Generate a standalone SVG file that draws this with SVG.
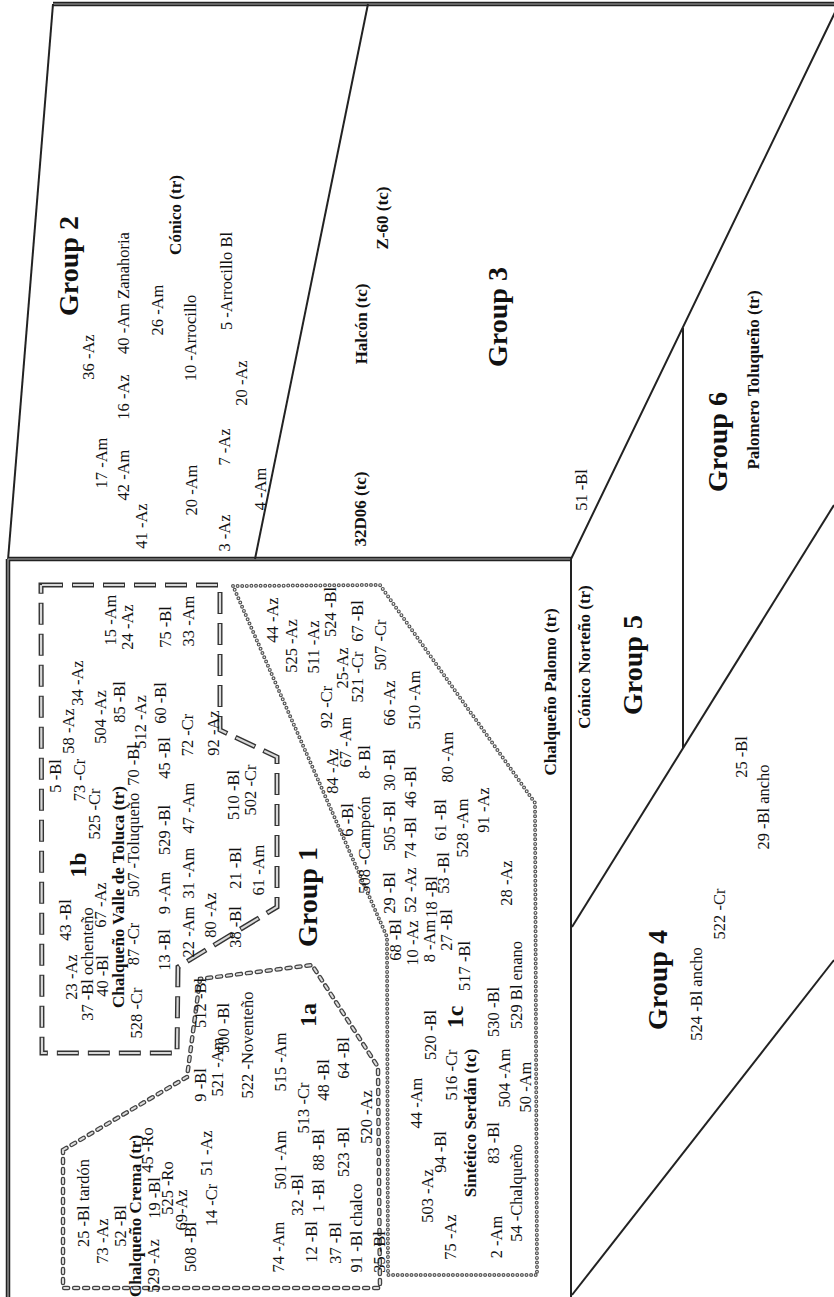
<svg xmlns="http://www.w3.org/2000/svg" width="834" height="1297" viewBox="0 0 834 1297">
<style>
text{font-family:"Liberation Serif","Times New Roman",serif;fill:#111;text-anchor:middle;dominant-baseline:central}
.r{font-size:16.5px}
.b{font-size:17px;font-weight:bold}
.g{font-size:28px;font-weight:bold}
.s{font-size:24px;font-weight:bold}
.ln{stroke:#222;stroke-width:2;fill:none}
.dbo{stroke:#222;stroke-width:4.5;fill:none}
.dbi{stroke:#aaa;stroke-width:1.2;fill:none}
.d1o{stroke:#333;stroke-width:5;stroke-dasharray:22 9;fill:none}
.d1i{stroke:#d8d8d8;stroke-width:2.2;stroke-dasharray:20 11;stroke-dashoffset:-1;fill:none}
.d2o{stroke:#444;stroke-width:4.5;stroke-dasharray:4 6;stroke-linecap:round;fill:none}
.d2i{stroke:#ddd;stroke-width:2;stroke-dasharray:4 6;stroke-linecap:round;fill:none}
.d3o{stroke:#555;stroke-width:4;stroke-dasharray:0 4.6;stroke-linecap:round;fill:none}
.d3i{stroke:#fff;stroke-width:1.6;stroke-dasharray:0 4.6;stroke-linecap:round;fill:none}
</style>
<rect width="834" height="1297" fill="#fff"/>
<g id="connectors">
<path class="dbo" d="M53,4 L834,4"/><path class="dbi" d="M53,4 L834,4"/>
<path class="ln" d="M53,4 L8,560"/>
<path class="dbo" d="M8,559 L8,1297 M8,559 L571,559"/><path class="dbi" d="M8,559 L8,1297 M8,559 L571,559"/>
<path class="ln" d="M368,4 L255,559"/>
<path class="ln" d="M839,4 L571,559 L571,1297"/>
<path class="ln" d="M683,328 L683,748"/>
<path class="ln" d="M572,927 L834,505"/>
<path class="ln" d="M572,1295 L834,960"/>
<path class="d1o" d="M41,585 L220,585 L220,730 L277,757 L277,907 L178,967 L177,1053 L42,1053 Z"/>
<path class="d1i" d="M41,585 L220,585 L220,730 L277,757 L277,907 L178,967 L177,1053 L42,1053 Z"/>
<path class="d2o" d="M63,1150 L187,1077 L200,979 L312,965 L378,1067 L380,1288 L63,1288 Z"/>
<path class="d2i" d="M63,1150 L187,1077 L200,979 L312,965 L378,1067 L380,1288 L63,1288 Z"/>
<path class="d3o" d="M233,586 L380,585 L535,803 L537,1275 L388,1275 L387,937 Z"/>
<path class="d3i" d="M233,586 L380,585 L535,803 L537,1275 L388,1275 L387,937 Z"/>
</g>
<g id="group2">
<text class="g" transform="translate(68 266) rotate(-90)">Group 2</text>
<text class="r" transform="translate(88 357) rotate(-90)">36 -Az</text>
<text class="r" transform="translate(101 463) rotate(-90)">17 -Am</text>
<text class="r" transform="translate(123 475) rotate(-90)">42 -Am</text>
<text class="r" transform="translate(141 526) rotate(-90)">41 -Az</text>
<text class="r" transform="translate(123 397) rotate(-90)">16 -Az</text>
<text class="r" transform="translate(123 293) rotate(-90)">40 -Am Zanahoria</text>
<text class="r" transform="translate(157 310) rotate(-90)">26 -Am</text>
<text class="b" transform="translate(175 215) rotate(-90)">Cónico (tr)</text>
<text class="r" transform="translate(190 338) rotate(-90)">10 -Arrocillo</text>
<text class="r" transform="translate(191 490) rotate(-90)">20 -Am</text>
<text class="r" transform="translate(226 281) rotate(-90)">5 -Arrocillo Bl</text>
<text class="r" transform="translate(224 447) rotate(-90)">7 -Az</text>
<text class="r" transform="translate(241 383) rotate(-90)">20 -Az</text>
<text class="r" transform="translate(224 533) rotate(-90)">3 -Az</text>
<text class="r" transform="translate(260 489) rotate(-90)">4 -Am</text>
</g>
<g id="group3">
<text class="b" transform="translate(382 218) rotate(-90)">Z-60 (tc)</text>
<text class="b" transform="translate(361 324) rotate(-90)">Halcón (tc)</text>
<text class="g" transform="translate(497 317) rotate(-90)">Group 3</text>
<text class="b" transform="translate(360 509) rotate(-90)">32D06 (tc)</text>
</g>
<g id="group6">
<text class="b" transform="translate(753 380) rotate(-90)">Palomero Toluqueño (tr)</text>
<text class="g" transform="translate(717 442) rotate(-90)">Group 6</text>
</g>
<g id="group5">
<text class="r" transform="translate(581 490) rotate(-90)">51 -Bl</text>
<text class="b" transform="translate(584 657) rotate(-90)">Cónico Norteño (tr)</text>
<text class="g" transform="translate(632 665) rotate(-90)">Group 5</text>
</g>
<g id="group4">
<text class="r" transform="translate(741 757) rotate(-90)">25 -Bl</text>
<text class="r" transform="translate(763 807) rotate(-90)">29 -Bl ancho</text>
<text class="r" transform="translate(719 914) rotate(-90)">522 -Cr</text>
<text class="g" transform="translate(657 980) rotate(-90)">Group 4</text>
<text class="r" transform="translate(696 994) rotate(-90)">524 -Bl ancho</text>
</g>
<g id="group1">
<text class="g" transform="translate(307 897) rotate(-90)">Group 1</text>
<text class="b" transform="translate(550 692) rotate(-90)">Chalqueño Palomo (tr)</text>
<text class="r" transform="translate(272 620) rotate(-90)">44 -Az</text>
</g>
<g id="group1b">
<text class="r" transform="translate(55 776) rotate(-90)">5 -Bl</text>
<text class="r" transform="translate(68 731) rotate(-90)">58 -Az</text>
<text class="r" transform="translate(77 683) rotate(-90)">34 -Az</text>
<text class="r" transform="translate(65 920) rotate(-90)">43 -Bl</text>
<text class="r" transform="translate(71 977) rotate(-90)">23 -Az</text>
<text class="r" transform="translate(79 780) rotate(-90)">73 -Cr</text>
<text class="s" transform="translate(78 865) rotate(-90)">1b</text>
<text class="r" transform="translate(87 964) rotate(-90)">37 -Bl ochenteño</text>
<text class="r" transform="translate(94 814) rotate(-90)">525 -Cr</text>
<text class="r" transform="translate(100 717) rotate(-90)">504 -Az</text>
<text class="r" transform="translate(110 620) rotate(-90)">15 -Am</text>
<text class="r" transform="translate(100 905) rotate(-90)">67 -Az</text>
<text class="r" transform="translate(102 976) rotate(-90)">40 -Bl</text>
<text class="r" transform="translate(127 627) rotate(-90)">24 -Az</text>
<text class="r" transform="translate(119 702) rotate(-90)">85 -Bl</text>
<text class="r" transform="translate(133 765) rotate(-90)">70 -Bl</text>
<text class="r" transform="translate(140 722) rotate(-90)">512 -Az</text>
<text class="b" transform="translate(118 897) rotate(-90)">Chalqueño Valle de Toluca (tr)</text>
<text class="r" transform="translate(133 845) rotate(-90)">507 -Toluqueño</text>
<text class="r" transform="translate(133 944) rotate(-90)">87 -Cr</text>
<text class="r" transform="translate(136 1013) rotate(-90)">528 -Cr</text>
<text class="r" transform="translate(160 703) rotate(-90)">60 -Bl</text>
<text class="r" transform="translate(165 627) rotate(-90)">75 -Bl</text>
<text class="r" transform="translate(188 621) rotate(-90)">33 -Am</text>
<text class="r" transform="translate(164 950) rotate(-90)">13 -Bl</text>
<text class="r" transform="translate(164 893) rotate(-90)">9 -Am</text>
<text class="r" transform="translate(164 830) rotate(-90)">529 -Bl</text>
<text class="r" transform="translate(164 758) rotate(-90)">45 -Bl</text>
<text class="r" transform="translate(187 735) rotate(-90)">72 -Cr</text>
<text class="r" transform="translate(188 932) rotate(-90)">22 -Am</text>
<text class="r" transform="translate(188 873) rotate(-90)">31 -Am</text>
<text class="r" transform="translate(188 808) rotate(-90)">47 -Am</text>
<text class="r" transform="translate(210 915) rotate(-90)">80 -Az</text>
<text class="r" transform="translate(235 927) rotate(-90)">38 -Bl</text>
<text class="r" transform="translate(235 868) rotate(-90)">21 -Bl</text>
<text class="r" transform="translate(233 795) rotate(-90)">510 -Bl</text>
<text class="r" transform="translate(250 790) rotate(-90)">502 -Cr</text>
<text class="r" transform="translate(258 870) rotate(-90)">61 -Am</text>
<text class="r" transform="translate(213 733) rotate(-90)">92 -Az</text>
</g>
<g id="group1a">
<text class="s" transform="translate(308 1015) rotate(-90)">1a</text>
<text class="r" transform="translate(83 1203) rotate(-90)">25 -Bl tardón</text>
<text class="r" transform="translate(102 1241) rotate(-90)">73 -Az</text>
<text class="r" transform="translate(120 1226) rotate(-90)">52 -Bl</text>
<text class="b" transform="translate(135 1216) rotate(-90)">Chalqueño Crema (tr)</text>
<text class="r" transform="translate(153 1266) rotate(-90)">529 -Az</text>
<text class="r" transform="translate(154 1198) rotate(-90)">19 -Bl</text>
<text class="r" transform="translate(147 1150) rotate(-90)">45 -Ro</text>
<text class="r" transform="translate(167 1188) rotate(-90)">525 -Ro</text>
<text class="r" transform="translate(181 1210) rotate(-90)">69-Az</text>
<text class="r" transform="translate(190 1247) rotate(-90)">508 -Bl</text>
<text class="r" transform="translate(211 1205) rotate(-90)">14 -Cr</text>
<text class="r" transform="translate(206 1153) rotate(-90)">51 -Az</text>
<text class="r" transform="translate(200 1085) rotate(-90)">9 -Bl</text>
<text class="r" transform="translate(217 1067) rotate(-90)">521 -Am</text>
<text class="r" transform="translate(200 1003) rotate(-90)">512 -Bl</text>
<text class="r" transform="translate(223 1028) rotate(-90)">500 -Bl</text>
<text class="r" transform="translate(247 1045) rotate(-90)">522 -Noventeño</text>
<text class="r" transform="translate(278 1247) rotate(-90)">74 -Am</text>
<text class="r" transform="translate(280 1160) rotate(-90)">501 -Am</text>
<text class="r" transform="translate(280 1062) rotate(-90)">515 -Am</text>
<text class="r" transform="translate(297 1195) rotate(-90)">32 -Bl</text>
<text class="r" transform="translate(303 1108) rotate(-90)">513 -Cr</text>
<text class="r" transform="translate(311 1242) rotate(-90)">12 -Bl</text>
<text class="r" transform="translate(318 1196) rotate(-90)">1 -Bl</text>
<text class="r" transform="translate(318 1150) rotate(-90)">88 -Bl</text>
<text class="r" transform="translate(323 1080) rotate(-90)">48 -Bl</text>
<text class="r" transform="translate(335 1243) rotate(-90)">37 -Bl</text>
<text class="r" transform="translate(343 1152) rotate(-90)">523 -Bl</text>
<text class="r" transform="translate(343 1058) rotate(-90)">64 -Bl</text>
<text class="r" transform="translate(356 1228) rotate(-90)">91 -Bl chalco</text>
<text class="r" transform="translate(366 1117) rotate(-90)">520 -Az</text>
<text class="r" transform="translate(379 1252) rotate(-90)">35 -Bl</text>
</g>
<g id="group1c">
<text class="r" transform="translate(291 646) rotate(-90)">525 -Az</text>
<text class="r" transform="translate(313 647) rotate(-90)">511 -Az</text>
<text class="r" transform="translate(330 612) rotate(-90)">524 -Bl</text>
<text class="r" transform="translate(342 668) rotate(-90)">25-Az</text>
<text class="r" transform="translate(326 707) rotate(-90)">92 -Cr</text>
<text class="r" transform="translate(357 677) rotate(-90)">521 -Cr</text>
<text class="r" transform="translate(357 621) rotate(-90)">67 -Bl</text>
<text class="r" transform="translate(380 645) rotate(-90)">507 -Cr</text>
<text class="r" transform="translate(332 771) rotate(-90)">84 -Az</text>
<text class="r" transform="translate(345 742) rotate(-90)">67 -Am</text>
<text class="r" transform="translate(364 845) rotate(-90)">508 -Campeón</text>
<text class="r" transform="translate(364 762) rotate(-90)">8-  Bl</text>
<text class="r" transform="translate(347 820) rotate(-90)">6 -Bl</text>
<text class="r" transform="translate(389 703) rotate(-90)">66 -Az</text>
<text class="r" transform="translate(414 700) rotate(-90)">510 -Am</text>
<text class="r" transform="translate(389 826) rotate(-90)">505 -Bl</text>
<text class="r" transform="translate(389 770) rotate(-90)">30 -Bl</text>
<text class="r" transform="translate(410 838) rotate(-90)">74 -Bl</text>
<text class="r" transform="translate(410 787) rotate(-90)">46 -Bl</text>
<text class="r" transform="translate(440 820) rotate(-90)">61 -Bl</text>
<text class="r" transform="translate(447 757) rotate(-90)">80 -Am</text>
<text class="r" transform="translate(462 828) rotate(-90)">528 -Am</text>
<text class="r" transform="translate(483 810) rotate(-90)">91 -Az</text>
<text class="r" transform="translate(506 883) rotate(-90)">28 -Az</text>
<text class="r" transform="translate(443 873) rotate(-90)">53 -Bl</text>
<text class="r" transform="translate(389 893) rotate(-90)">29 -Bl</text>
<text class="r" transform="translate(410 890) rotate(-90)">52 -Az</text>
<text class="r" transform="translate(431 897) rotate(-90)">18 -Bl</text>
<text class="r" transform="translate(446 930) rotate(-90)">27 -Bl</text>
<text class="r" transform="translate(395 940) rotate(-90)">68 -Bl</text>
<text class="r" transform="translate(412 943) rotate(-90)">10 -Az</text>
<text class="r" transform="translate(429 941) rotate(-90)">8 -Am</text>
<text class="r" transform="translate(464 966) rotate(-90)">517 -Bl</text>
<text class="r" transform="translate(516 985) rotate(-90)">529 Bl enano</text>
<text class="r" transform="translate(430 1035) rotate(-90)">520 -Bl</text>
<text class="s" transform="translate(455 1017) rotate(-90)">1c</text>
<text class="r" transform="translate(493 1012) rotate(-90)">530 -Bl</text>
<text class="r" transform="translate(416 1103) rotate(-90)">44 -Am</text>
<text class="r" transform="translate(440 1152) rotate(-90)">94 -Bl</text>
<text class="r" transform="translate(451 1075) rotate(-90)">516 -Cr</text>
<text class="r" transform="translate(427 1196) rotate(-90)">503 -Az</text>
<text class="b" transform="translate(470 1123) rotate(-90)">Sintético Serdán (tc)</text>
<text class="r" transform="translate(450 1237) rotate(-90)">75 -Az</text>
<text class="r" transform="translate(493 1143) rotate(-90)">83 -Bl</text>
<text class="r" transform="translate(504 1078) rotate(-90)">504 -Am</text>
<text class="r" transform="translate(496 1237) rotate(-90)">2 -Am</text>
<text class="r" transform="translate(516 1193) rotate(-90)">54 -Chalqueño</text>
<text class="r" transform="translate(525 1087) rotate(-90)">50 -Am</text>
</g>
</svg>
